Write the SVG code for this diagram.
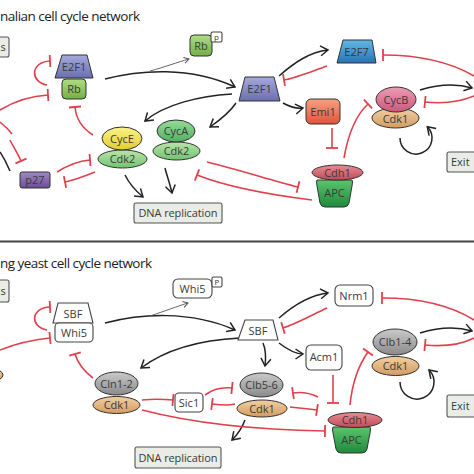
<svg xmlns="http://www.w3.org/2000/svg" width="474" height="474" viewBox="0 0 474 474">
<defs>
<style>
.t{font-family:"Open Sans","DejaVu Sans",sans-serif;fill:#3a3a3a;text-anchor:middle}
.n{font-size:11px}
.ti{font-family:"Open Sans","DejaVu Sans",sans-serif;font-size:13.5px;fill:#222}
.blk{fill:none;stroke:#222;stroke-width:1.5;marker-end:url(#arr)}
.thin{fill:none;stroke:#555;stroke-width:0.9;marker-end:url(#arrs)}
.red{fill:none;stroke:#e0404c;stroke-width:1.6;marker-end:url(#bar)}
.redn{fill:none;stroke:#e0404c;stroke-width:1.6}
.ol{stroke:#333;stroke-width:1}
.wb{fill:#fff;stroke:#444;stroke-width:1.1}
.gb{fill:#e9ede6;stroke:#555;stroke-width:1.1}
</style>
<marker id="arr" viewBox="-10 -10 20 20" markerWidth="20" markerHeight="20" markerUnits="userSpaceOnUse" orient="auto" overflow="visible"><path d="M-7.5,-5 L0,0 L-7.5,5" fill="none" stroke="#222" stroke-width="1.5"/></marker>
<marker id="arrs" viewBox="-10 -10 20 20" markerWidth="20" markerHeight="20" markerUnits="userSpaceOnUse" orient="auto" overflow="visible"><path d="M-5,-3 L0,0 L-5,3" fill="none" stroke="#555" stroke-width="1"/></marker>
<marker id="bar" viewBox="-10 -10 20 20" markerWidth="20" markerHeight="20" markerUnits="userSpaceOnUse" orient="auto" overflow="visible"><path d="M0,-6 L0,6" fill="none" stroke="#e0404c" stroke-width="1.8"/></marker>
<linearGradient id="gE2F1" x1="0" y1="0" x2="0" y2="1"><stop offset="0" stop-color="#a5a9dc"/><stop offset="1" stop-color="#6a6eb0"/></linearGradient>
<linearGradient id="gE2F7" x1="0" y1="0" x2="0" y2="1"><stop offset="0" stop-color="#62b8e6"/><stop offset="1" stop-color="#2a72b2"/></linearGradient>
<linearGradient id="gRb" x1="0" y1="0" x2="0" y2="1"><stop offset="0" stop-color="#b0dc80"/><stop offset="1" stop-color="#72b048"/></linearGradient>
<linearGradient id="gCycB" x1="0" y1="0" x2="0" y2="1"><stop offset="0" stop-color="#ee9cb4"/><stop offset="1" stop-color="#c85a7a"/></linearGradient>
<linearGradient id="gCdk1" x1="0" y1="0" x2="0" y2="1"><stop offset="0" stop-color="#f2cfa2"/><stop offset="1" stop-color="#d39c62"/></linearGradient>
<linearGradient id="gEmi1" x1="0" y1="0" x2="0" y2="1"><stop offset="0" stop-color="#f8a080"/><stop offset="1" stop-color="#e0543c"/></linearGradient>
<linearGradient id="gCdh1" x1="0" y1="0" x2="0" y2="1"><stop offset="0" stop-color="#e88c92"/><stop offset="1" stop-color="#c04a5a"/></linearGradient>
<linearGradient id="gAPC" x1="0" y1="0" x2="0" y2="1"><stop offset="0" stop-color="#5cc46c"/><stop offset="1" stop-color="#1e8a3c"/></linearGradient>
<linearGradient id="gCycE" x1="0" y1="0" x2="0" y2="1"><stop offset="0" stop-color="#faf488"/><stop offset="1" stop-color="#e2cc34"/></linearGradient>
<linearGradient id="gCdk2" x1="0" y1="0" x2="0" y2="1"><stop offset="0" stop-color="#b8e6a8"/><stop offset="1" stop-color="#72c272"/></linearGradient>
<linearGradient id="gCycA" x1="0" y1="0" x2="0" y2="1"><stop offset="0" stop-color="#98dc98"/><stop offset="1" stop-color="#50b060"/></linearGradient>
<linearGradient id="gp27" x1="0" y1="0" x2="0" y2="1"><stop offset="0" stop-color="#a08ac6"/><stop offset="1" stop-color="#6a4c98"/></linearGradient>
<linearGradient id="gGray" x1="0" y1="0" x2="0" y2="1"><stop offset="0" stop-color="#cacaca"/><stop offset="1" stop-color="#8a8a8a"/></linearGradient>
</defs>
<rect width="474" height="474" fill="#fff"/>

<!-- titles and separator -->
<text class="ti" x="0" y="21" textLength="140">nalian cell cycle network</text>
<line x1="0" y1="241.5" x2="474" y2="241.5" stroke="#444" stroke-width="2"/>
<text class="ti" x="0" y="268" textLength="152">ng yeast cell cycle network</text>

<!-- connectors -->
<g id="connectors">
<!-- top black -->
<path class="blk" d="M105,79 C140,70 190,66 235,87"/>
<path class="thin" d="M150,71 C165,67 178,62 189,59"/>
<path class="blk" d="M279,76 C295,62 310,52 328,50"/>
<path class="blk" d="M283,103 C290,107 296,109 303,108"/>
<path class="blk" d="M232,94 C200,96 165,104 145,121"/>
<path class="blk" d="M236,103 C230,112 220,120 210,127"/>
<path class="blk" d="M420,90 C440,84 458,84 472,88"/>
<path class="blk" d="M125,175 C130,185 137,192 143,197"/>
<path class="blk" d="M165,168 C167,176 170,184 172,193"/>
<path class="blk" d="M400,138 A16,16 0 1 0 427.3,126.7"/>
<path fill="none" stroke="#222" stroke-width="1.5" d="M0,152 C4,158 7,164 10,171"/>
<!-- top red -->
<path class="red" d="M47,85 C30,82 30,62 50,61"/>
<path class="red" d="M0,110 C15,101 30,96 48,95"/>
<path class="red" d="M93,135 C82,128 76,119 75,107"/>
<path class="red" d="M57,172 C68,165 78,161 90,160"/>
<path class="red" d="M95,172 C85,176 75,180 65,182"/>
<path class="red" d="M10,140 C14,148 18,154 21,161"/>
<path class="redn" d="M0,122 C5,126 9,130 12,134"/>
<path class="red" d="M327,66 C310,72 296,78 284,80"/>
<path class="red" d="M474,76 C450,62 420,55 383,55"/>
<path class="red" d="M474,96 C460,102 445,104 425,102"/>
<path class="red" d="M344,158 C348,135 355,116 368,104"/>
<path class="red" d="M332,128 L332,148"/>
<path class="red" d="M207,162 C240,170 270,180 298,187"/>
<path class="red" d="M312,200 C280,196 230,188 197,175"/>
<!-- bottom black -->
<path class="blk" d="M105,323 C140,314 190,310 235,330"/>
<path class="thin" d="M150,316 C165,311 178,306 188,303"/>
<path class="blk" d="M279,318 C295,304 310,295 328,293"/>
<path class="blk" d="M279,343 C288,350 296,354 303,354"/>
<path class="blk" d="M240,338 C200,340 165,350 141,368"/>
<path class="blk" d="M263,343 C266,350 266,358 265,366"/>
<path class="blk" d="M420,333 C440,327 458,327 472,331"/>
<path class="blk" d="M245,420 C242,428 238,434 232,440"/>
<path class="blk" d="M400,382 A17,17 0 1 0 429,370"/>
<!-- bottom red -->
<path class="red" d="M47,330 C30,327 30,308 50,307"/>
<path class="red" d="M0,350 C15,344 30,340 50,338"/>
<path class="red" d="M93,378 C85,372 78,364 75,354"/>
<path class="red" d="M327,308 C310,316 296,324 283,328"/>
<path class="red" d="M474,320 C450,305 420,298 382,298"/>
<path class="red" d="M474,338 C460,345 445,347 425,345"/>
<path class="red" d="M350,405 C352,385 358,366 368,352"/>
<path class="red" d="M333,375 L333,403"/>
<path class="red" d="M142,400 C152,399 162,399 173,400"/>
<path class="red" d="M205,395 C213,389 222,387 232,388"/>
<path class="red" d="M235,404 C228,406 220,405 212,404"/>
<path class="red" d="M142,410 C200,425 260,430 325,431"/>
<path class="red" d="M318,397 C310,393 300,392 293,393"/>
<path class="red" d="M290,407 C300,408 310,409 317,410"/>
</g>

<!-- top nodes -->
<g id="boxS1"><rect x="-10" y="37" width="19" height="20" rx="2" class="gb"/><text class="t n" x="3" y="51">s</text></g>
<g id="E2F1a"><path d="M62,55 L87,55 L93,78 L55,78 Z" fill="url(#gE2F1)" class="ol"/><text class="t n" x="74" y="71">E2F1</text></g>
<g id="Rba"><rect x="62" y="79" width="24" height="20" rx="4" fill="url(#gRb)" class="ol"/><text class="t n" x="74" y="93">Rb</text></g>
<g id="Rbp"><rect x="190" y="35" width="22" height="21" rx="4" fill="url(#gRb)" class="ol"/><text class="t n" x="201" y="50">Rb</text><rect x="211" y="32" width="11" height="10" rx="1.5" class="wb"/><text class="t" x="216.5" y="40" font-size="8">p</text></g>
<g id="E2F1b"><path d="M245,77 L274,77 L280,101 L239,101 Z" fill="url(#gE2F1)" class="ol"/><text class="t n" x="259.5" y="93">E2F1</text></g>
<g id="E2F7"><path d="M343,40 L372,40 L376,63 L337,63 Z" fill="url(#gE2F7)" class="ol"/><text class="t n" x="356.5" y="56">E2F7</text></g>
<g id="Emi1"><rect x="306" y="99" width="34" height="25" rx="5" fill="url(#gEmi1)" class="ol"/><text class="t n" x="323" y="116">Emi1</text></g>
<g id="CycBCdk1"><ellipse cx="395.5" cy="118" rx="23.5" ry="10" fill="url(#gCdk1)" class="ol"/><text class="t n" x="395.5" y="123">Cdk1</text><ellipse cx="396" cy="99.5" rx="20" ry="12.5" fill="url(#gCycB)" class="ol"/><text class="t n" x="396" y="103.5">CycB</text></g>
<g id="Cdh1APCa"><path d="M317,180 L352,180 Q353,181 352,186 L349,203 Q348,207 344,207 L325,207 Q321,207 320,203 L317,186 Q316,181 317,180 Z" fill="url(#gAPC)" class="ol"/><text class="t n" x="334.5" y="197">APC</text><ellipse cx="337.5" cy="172.5" rx="25.5" ry="7.5" fill="url(#gCdh1)" class="ol"/><text class="t n" x="337.5" y="176.5">Cdh1</text></g>
<g id="ExitA"><rect x="447" y="152" width="40" height="20" rx="2" class="gb"/><text class="t n" x="451" y="166" style="text-anchor:start">Exit</text></g>
<g id="CycECdk2"><ellipse cx="122.5" cy="159" rx="24.5" ry="9" fill="url(#gCdk2)" class="ol"/><text class="t n" x="122.5" y="163">Cdk2</text><ellipse cx="122" cy="138.5" rx="20" ry="11.5" fill="url(#gCycE)" class="ol"/><text class="t n" x="122" y="142.5">CycE</text></g>
<g id="CycACdk2"><ellipse cx="176.5" cy="151" rx="23.5" ry="9" fill="url(#gCdk2)" class="ol"/><text class="t n" x="176.5" y="155">Cdk2</text><ellipse cx="176" cy="131" rx="19" ry="11" fill="url(#gCycA)" class="ol"/><text class="t n" x="176" y="135">CycA</text></g>
<g id="p27"><rect x="20" y="172" width="30" height="16" rx="2" fill="url(#gp27)" class="ol"/><text class="t n" x="35" y="184">p27</text></g>
<g id="DNAa"><rect x="134" y="203" width="88" height="20" rx="2" class="gb"/><text class="t n" x="178" y="217" textLength="79">DNA replication</text></g>

<!-- bottom nodes -->
<g id="boxS2"><rect x="-10" y="280" width="19" height="22" rx="2" class="gb"/><text class="t n" x="3" y="295">s</text></g>
<g id="SBFa"><path d="M58,303 L88,303 L93,323 L53,323 Z" class="wb"/><text class="t n" x="73" y="318">SBF</text></g>
<g id="Whi5a"><rect x="55" y="323" width="38" height="19" rx="4" class="wb"/><text class="t n" x="74" y="337">Whi5</text></g>
<g id="Whi5P"><rect x="173" y="279" width="39" height="19" rx="5" class="wb"/><text class="t n" x="192.5" y="293">Whi5</text><rect x="212" y="277" width="10" height="10" rx="1.5" class="wb"/><text class="t" x="217" y="285" font-size="8">P</text></g>
<g id="SBFb"><path d="M245,320 L273,320 L278,340 L238,340 Z" class="wb"/><text class="t n" x="258" y="334.5">SBF</text></g>
<g id="Nrm1"><rect x="335" y="285" width="38" height="21" rx="5" class="wb"/><text class="t n" x="354" y="299.5">Nrm1</text></g>
<g id="Acm1"><rect x="306" y="345" width="36" height="25" rx="5" class="wb"/><text class="t n" x="324" y="361">Acm1</text></g>
<g id="Clb14Cdk1"><ellipse cx="395.5" cy="366" rx="23.5" ry="9.5" fill="url(#gCdk1)" class="ol"/><text class="t n" x="395.5" y="370">Cdk1</text><ellipse cx="395" cy="342" rx="22" ry="13" fill="url(#gGray)" class="ol"/><text class="t n" x="395" y="346">Clb1-4</text></g>
<g id="Cdh1APCb"><path d="M333,427 L370,427 Q371,428 370,433 L367,449 Q366,453 362,453 L341,453 Q337,453 336,449 L333,433 Q332,428 333,427 Z" fill="url(#gAPC)" class="ol"/><text class="t n" x="351.5" y="444">APC</text><ellipse cx="355" cy="420" rx="27" ry="7.5" fill="url(#gCdh1)" class="ol"/><text class="t n" x="355" y="424">Cdh1</text></g>
<g id="ExitB"><rect x="447" y="395" width="40" height="22" rx="2" class="gb"/><text class="t n" x="451" y="410" style="text-anchor:start">Exit</text></g>
<g id="Cln12Cdk1"><ellipse cx="116.5" cy="405" rx="23.5" ry="8.5" fill="url(#gCdk1)" class="ol"/><text class="t n" x="116.5" y="409">Cdk1</text><ellipse cx="116.5" cy="383.5" rx="21.5" ry="11.5" fill="url(#gGray)" class="ol"/><text class="t n" x="116.5" y="387.5">Cln1-2</text></g>
<g id="Clb56Cdk1"><ellipse cx="262" cy="408.5" rx="25" ry="8.5" fill="url(#gCdk1)" class="ol"/><text class="t n" x="262" y="412.5">Cdk1</text><ellipse cx="261.5" cy="385" rx="21.5" ry="12" fill="url(#gGray)" class="ol"/><text class="t n" x="261.5" y="389">Clb5-6</text></g>
<g id="Sic1"><rect x="175" y="393" width="28" height="19" rx="4" class="wb"/><text class="t n" x="189" y="406.5">Sic1</text></g>
<g id="DNAb"><rect x="135" y="447" width="86" height="21" rx="2" class="gb"/><text class="t n" x="178" y="461.5" textLength="79">DNA replication</text></g>
<g id="partialCdk"><ellipse cx="-8" cy="375" rx="11" ry="6" fill="url(#gCdk1)" class="ol"/></g>
</svg>
